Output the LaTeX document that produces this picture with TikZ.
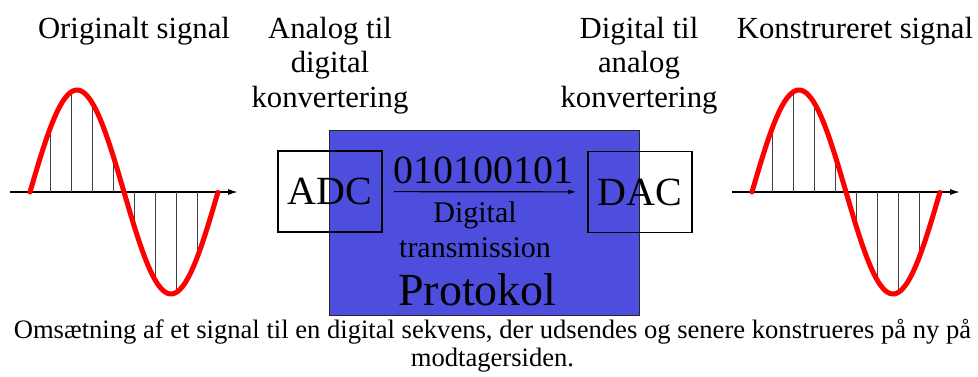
\documentclass[tikz,border=0pt]{standalone}
\usepackage{fontspec}
\setmainfont{Liberation Serif}
\usetikzlibrary{arrows.meta}
\definecolor{protoblue}{RGB}{77,77,222}

\tikzset{
  signal/.style={red, line width=5pt, line cap=round},
  sample/.style={black!75, line width=1.1pt},
  axis/.style={line width=1.4pt, -{Latex[length=10pt,width=6pt]}},
  convbox/.style={draw, line width=1.5pt, minimum width=104pt, minimum height=81pt,
    inner sep=0pt, font=\fontsize{40}{40}\selectfont},
  protobox/.style={draw=black!85, line width=1pt, fill=protoblue,
    minimum width=310pt, minimum height=185pt, inner sep=0pt},
  title/.style={anchor=base, inner sep=0pt, font=\fontsize{30.7}{34.5}\selectfont},
  caption/.style={anchor=base, inner sep=0pt, font=\fontsize{26.6}{29}\selectfont},
}

\begin{document}
\begin{tikzpicture}[x=1pt, y=-1pt]
    \useasboundingbox (0,0) rectangle (978,376);

    % Sampled signals, original and reconstructed
    \foreach \s in {0,722} {
      \begin{scope}[xshift=\s pt]
        \draw[axis] (10,192) -- (238,192);
        \foreach \k in {1,...,8}
          \draw[sample] ({30+188*\k/9},192) -- ({30+188*\k/9},{192-102*sin(40*\k)});
        \draw[signal] plot[domain=0:1, samples=80, smooth] ({30+188*\x},{192-102*sin(360*\x)});
      \end{scope}
    }

    % Titles
    \node[title] (orig) at (134,38) {Originalt signal};
    \node[title] (ad1) at (330,38) {Analog til};
    \node[title] (ad2) at (330,72.5) {digital};
    \node[title] (ad3) at (330,107) {konvertering};
    \node[title] (da1) at (639,38) {Digital til};
    \node[title] (da2) at (639,72.5) {analog};
    \node[title] (da3) at (639,107) {konvertering};
    \node[title] (recon) at (855,38) {Konstrureret signal};

    % Protocol box with the converters on top
    \node[protobox] (proto) at (484,222.5) {};
    \node[convbox] (adc) at (330,191.5) {ADC};
    \node[convbox] (dac) at (640,192) {DAC};
    \draw[line width=1.2pt, -{Latex[length=8pt,width=5pt]}, shorten <=11pt, shorten >=11pt]
      (adc) -- (dac);
    \node[anchor=base, inner sep=0pt, font=\fontsize{40}{40}\selectfont] (bits) at (483.5,183) {010100101};
    \node[anchor=base, inner sep=0pt, font=\fontsize{30}{30}\selectfont] (dig) at (475,222) {Digital};
    \node[anchor=base, inner sep=0pt, font=\fontsize{30}{30}\selectfont] (trans) at (475,257) {transmission};
    \node[anchor=base, inner sep=0pt, font=\fontsize{46}{46}\selectfont] (prot) at (477.5,305) {Protokol};

    % Caption
    \node[caption] (cap1) at (492.5,338) {Omsætning af et signal til en digital sekvens, der udsendes og senere konstrueres på ny på};
    \node[caption] (cap2) at (492.5,366) {modtagersiden.};
\end{tikzpicture}
\end{document}
